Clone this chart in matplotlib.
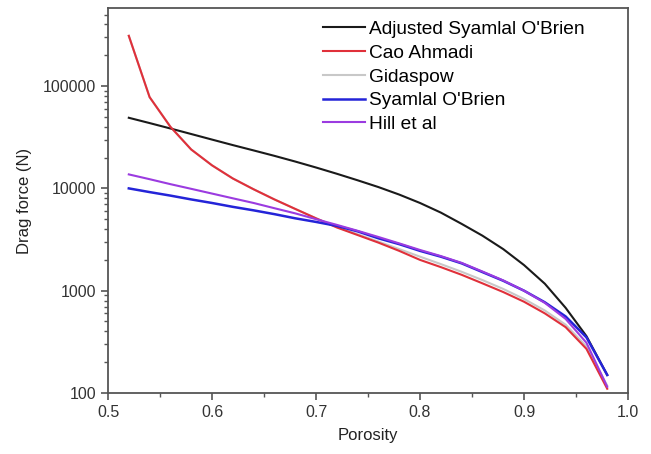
import matplotlib
matplotlib.use("Agg")
import matplotlib.pyplot as plt
from matplotlib.ticker import LogLocator, MultipleLocator, FixedLocator, NullFormatter

plt.rcParams['font.family'] = ['Liberation Sans', 'DejaVu Sans']

# porosity grid the curves are sampled on
porosity = [0.52, 0.54, 0.56, 0.58, 0.60, 0.62, 0.64, 0.66, 0.68, 0.70, 0.72, 0.74,
            0.76, 0.78, 0.80, 0.82, 0.84, 0.86, 0.88, 0.90, 0.92, 0.94, 0.96, 0.98]

adj_syamlal = [49000, 43500, 38500, 34000, 30000, 26500, 23500, 20800, 18300, 16000, 13900, 12000,
               10300, 8700, 7200, 5800, 4500, 3450, 2550, 1780, 1170, 680, 360, 150]
cao_ahmadi = [310000, 78000, 40000, 24000, 16800, 12500, 9800, 7800, 6300, 5100, 4150, 3500,
              2950, 2450, 2000, 1700, 1430, 1180, 970, 780, 600, 440, 270, 110]
gidaspow = [310000, 78000, 40000, 24000, 16800, 12500, 9800, 7800, 6300, 5100, 4200, 3560,
            3020, 2550, 2150, 1820, 1530, 1270, 1040, 830, 640, 465, 285, 118]
syamlal = [10000, 9200, 8500, 7800, 7200, 6600, 6100, 5600, 5100, 4700, 4300, 3800,
           3250, 2850, 2450, 2150, 1850, 1520, 1250, 1000, 770, 560, 350, 150]
hill = [13700, 12300, 11000, 9900, 8900, 8000, 7200, 6400, 5700, 5000, 4400, 3850,
        3350, 2900, 2500, 2180, 1870, 1540, 1260, 1000, 760, 530, 310, 115]

fig = plt.figure(figsize=(6.51, 4.54), dpi=100)
ax = fig.add_axes([0.1659, 0.1344, 0.7988, 0.848])

ax.plot(porosity, adj_syamlal, color="#1a1a1a", lw=1.5, label="Adjusted Syamlal O'Brien", zorder=3)
ax.plot(porosity, cao_ahmadi, color="#e0303a", lw=1.5, label="Cao Ahmadi", zorder=3)
ax.plot(porosity, gidaspow, color="#c8c8c8", lw=1.5, label="Gidaspow", zorder=2)
ax.plot(porosity, syamlal, color="#2424d8", lw=1.8, label="Syamlal O'Brien", zorder=3)
ax.plot(porosity, hill, color="#9b3be0", lw=1.5, label="Hill et al", zorder=3)

ax.set_yscale("log")
ax.set_xlim(0.5, 1.0)
ax.set_ylim(100, 5.8e5)
ax.xaxis.set_major_locator(MultipleLocator(0.1))
ax.xaxis.set_minor_locator(MultipleLocator(0.05))
ax.xaxis.set_major_formatter(plt.FuncFormatter(lambda v, p: "%.1f" % v))
ax.yaxis.set_major_locator(FixedLocator([100, 1000, 10000, 100000]))
ax.yaxis.set_major_formatter(plt.FuncFormatter(lambda v, p: "%d" % v))
ax.yaxis.set_minor_locator(LogLocator(base=10, subs=range(2, 10)))
ax.yaxis.set_minor_formatter(NullFormatter())

for s in ax.spines.values():
    s.set_color("#555555")
    s.set_linewidth(1.3)
ax.tick_params(which="major", direction="out", length=5, width=1.2, color="#555555",
               labelsize=11.5, labelcolor="#333333")
ax.tick_params(which="minor", direction="out", length=3, width=1.0, color="#555555")

ax.set_xlabel("Porosity", fontsize=12, color="#222222", labelpad=6)
ax.set_ylabel("Drag force (N)", fontsize=12, color="#222222", labelpad=8)

ax.legend(loc="upper right", frameon=False, fontsize=13.8, handlelength=2.15,
          handletextpad=0.25, labelspacing=0.33, borderaxespad=0, bbox_to_anchor=(0.932, 0.987))

fig.savefig("out.png", dpi=100)
